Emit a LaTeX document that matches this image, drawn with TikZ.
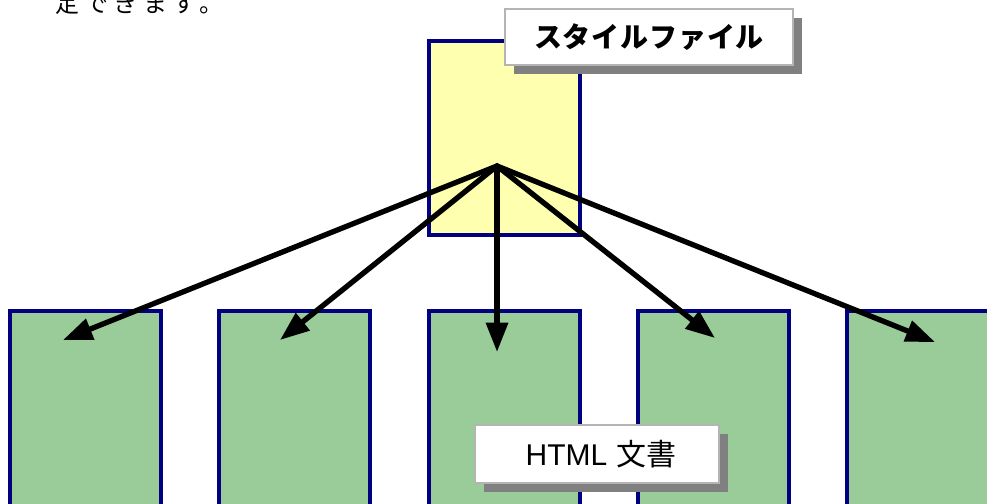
\documentclass[tikz,border=0pt]{standalone}
\usepackage{fontspec}
\newfontfamily\jpfont{Noto Sans CJK JP}
\newfontfamily\latinsans{Liberation Sans}
\usetikzlibrary{arrows.meta}
\definecolor{navyb}{HTML}{000080}
\definecolor{paleyellow}{HTML}{FFFFB0}
\definecolor{docgreen}{HTML}{99CC99}
\definecolor{shadowgray}{HTML}{808080}
\definecolor{labelborder}{HTML}{B4B4B4}
\tikzset{
  filebox/.style={draw=navyb, line width=2.6pt, inner sep=0pt, outer sep=0pt},
  labelbox/.style={draw=labelborder, fill=white, line width=1.6pt, inner sep=0pt, outer sep=0pt, font=\jpfont},
  labelshadow/.style={fill=shadowgray, inner sep=0pt, outer sep=0pt},
  linkarrow/.style={line width=4pt, -{Triangle[length=22pt,width=16pt]}, shorten <=-1pt}
}
\begin{document}
\begin{tikzpicture}[x=0.75pt,y=-0.75pt]
\useasboundingbox (0,0) rectangle (987,503);
% top text (cut off at the top edge, as in the reference)
\node[anchor=base west, inner sep=0pt, font={\jpfont\fontsize{18pt}{20pt}\selectfont\addfontfeature{LetterSpace=22}}] (toptext) at (55,13) {定できます。};
% green document boxes
\node[filebox, fill=docgreen, minimum width=113.25pt, minimum height=164.25pt] (g1) at (85.5,420.5) {};
\node[filebox, fill=docgreen, minimum width=113.25pt, minimum height=164.25pt] (g2) at (294.5,420.5) {};
\node[filebox, fill=docgreen, minimum width=113.25pt, minimum height=164.25pt] (g3) at (504.5,420.5) {};
\node[filebox, fill=docgreen, minimum width=113.25pt, minimum height=164.25pt] (g4) at (713.5,420.5) {};
\node[filebox, fill=docgreen, minimum width=113.25pt, minimum height=164.25pt] (g5) at (922.5,420.5) {};
% yellow style file box
\node[filebox, fill=paleyellow, minimum width=113.25pt, minimum height=145.5pt] (style) at (504.5,138) {};
% labels
\node[labelshadow, minimum width=216pt, minimum height=42pt] (styleshadow) at (658,46) {};
\node[labelbox, minimum width=216pt, minimum height=42pt, font={\jpfont\bfseries\fontsize{21pt}{24pt}\selectfont\addfontfeature{LetterSpace=3}}] (stylelabel) at (649,37) {スタイルファイル};
\node[labelshadow, minimum width=183pt, minimum height=43.5pt] (htmlshadow) at (606,463) {};
\node[labelbox, minimum width=183pt, minimum height=43.5pt, font={\fontsize{22.5pt}{24pt}\selectfont}] (htmllabel) at (597,454) {\hspace{6pt}{\latinsans HTML} {\jpfont 文書}};
% arrows
\coordinate (hub) at (497,166);
\coordinate (t1) at (63,340);
\coordinate (t2) at (280,340);
\coordinate (t3) at (497,352);
\coordinate (t4) at (715,338);
\coordinate (t5) at (935,342);
\foreach \t in {t1,t2,t3,t4,t5} {
  \draw[linkarrow] (hub) -- (\t);
}
\end{tikzpicture}
\end{document}
